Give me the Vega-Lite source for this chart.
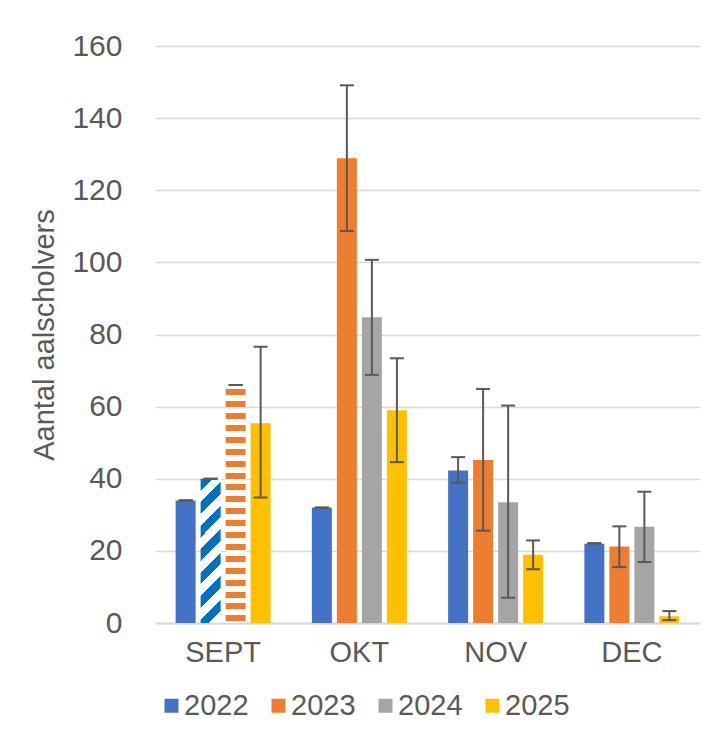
{
  "$schema": "https://vega.github.io/schema/vega-lite/v6.json",
  "width": 545,
  "height": 577,
  "autosize": {"type": "none"},
  "padding": {"left": 155, "top": 46, "right": 13, "bottom": 126},
  "background": "#ffffff",
  "config": {
    "view": {"stroke": null},
    "font": "Liberation Sans",
    "axis": {"labelColor": "#595959", "titleColor": "#595959", "ticks": false}
  },
  "data": {
    "values": [
      {"month": "SEPT", "year": "2022", "value": 34, "lo": 34, "hi": 34},
      {"month": "SEPT", "year": "2023", "value": 40, "lo": 40, "hi": 40},
      {"month": "SEPT", "year": "2024", "value": 66, "lo": 66, "hi": 66},
      {"month": "SEPT", "year": "2025", "value": 55.4, "lo": 34.8, "hi": 76.6},
      {"month": "OKT", "year": "2022", "value": 32, "lo": 32, "hi": 32},
      {"month": "OKT", "year": "2023", "value": 128.9, "lo": 108.7, "hi": 149.1},
      {"month": "OKT", "year": "2024", "value": 84.8, "lo": 68.8, "hi": 100.7},
      {"month": "OKT", "year": "2025", "value": 59, "lo": 44.6, "hi": 73.4},
      {"month": "NOV", "year": "2022", "value": 42.3, "lo": 38.9, "hi": 46},
      {"month": "NOV", "year": "2023", "value": 45.2, "lo": 25.6, "hi": 64.9},
      {"month": "NOV", "year": "2024", "value": 33.5, "lo": 7, "hi": 60.3},
      {"month": "NOV", "year": "2025", "value": 18.9, "lo": 14.9, "hi": 22.9},
      {"month": "DEC", "year": "2022", "value": 22, "lo": 22.1, "hi": 22.1},
      {"month": "DEC", "year": "2023", "value": 21.2, "lo": 15.5, "hi": 26.8},
      {"month": "DEC", "year": "2024", "value": 26.7, "lo": 16.9, "hi": 36.4},
      {"month": "DEC", "year": "2025", "value": 1.9, "lo": 0.8, "hi": 3.3}
    ]
  },
  "encoding": {
    "x": {
      "field": "month",
      "type": "nominal",
      "sort": ["SEPT", "OKT", "NOV", "DEC"],
      "scale": {"paddingInner": 0.266, "paddingOuter": 0.133},
      "axis": {
        "title": null,
        "labelAngle": 0,
        "labelFontSize": 29,
        "labelPadding": 15,
        "domainColor": "#d9d9d9",
        "domainWidth": 2,
        "grid": false
      }
    },
    "xOffset": {
      "field": "year",
      "type": "nominal",
      "scale": {"paddingInner": 0.2, "paddingOuter": 0.1}
    }
  },
  "layer": [
    {
      "transform": [
        {"filter": "!(datum.month === 'SEPT' && (datum.year === '2023' || datum.year === '2024'))"}
      ],
      "mark": {"type": "bar"},
      "encoding": {
        "y": {
          "field": "value",
          "type": "quantitative",
          "scale": {"domain": [0, 160]},
          "axis": {
            "title": "Aantal aalscholvers",
            "titleFontSize": 29,
            "titleFontWeight": "normal",
            "titlePadding": 12,
            "labelFontSize": 30,
            "labelPadding": 33,
            "values": [0, 20, 40, 60, 80, 100, 120, 140, 160],
            "domain": false,
            "gridColor": "#d9d9d9",
            "gridWidth": 1.5
          }
        },
        "color": {
          "field": "year",
          "type": "nominal",
          "scale": {
            "domain": ["2022", "2023", "2024", "2025"],
            "range": ["#4472C4", "#ED7D31", "#A5A5A5", "#FFC000"]
          },
          "legend": {
            "title": null,
            "orient": "none",
            "direction": "horizontal",
            "legendX": 2,
            "legendY": 645,
            "symbolType": "square",
            "symbolSize": 196,
            "symbolStrokeWidth": 0,
            "labelFontSize": 29,
            "labelColor": "#595959",
            "labelOffset": -2,
            "columnPadding": 15,
            "padding": 0
          }
        }
      }
    },
    {
      "transform": [{"filter": "datum.month === 'SEPT' && datum.year === '2023'"}],
      "mark": {
        "type": "bar",
        "fill": {
          "gradient": "linear",
          "x1": 0, "y1": 0, "x2": 0.155, "y2": 1.117,
          "stops": [
            {"offset": 0, "color": "#0070C0"}, {"offset": 0.071, "color": "#0070C0"},
            {"offset": 0.071, "color": "#ffffff"}, {"offset": 0.143, "color": "#ffffff"},
            {"offset": 0.143, "color": "#0070C0"}, {"offset": 0.214, "color": "#0070C0"},
            {"offset": 0.214, "color": "#ffffff"}, {"offset": 0.286, "color": "#ffffff"},
            {"offset": 0.286, "color": "#0070C0"}, {"offset": 0.357, "color": "#0070C0"},
            {"offset": 0.357, "color": "#ffffff"}, {"offset": 0.429, "color": "#ffffff"},
            {"offset": 0.429, "color": "#0070C0"}, {"offset": 0.5, "color": "#0070C0"},
            {"offset": 0.5, "color": "#ffffff"}, {"offset": 0.571, "color": "#ffffff"},
            {"offset": 0.571, "color": "#0070C0"}, {"offset": 0.643, "color": "#0070C0"},
            {"offset": 0.643, "color": "#ffffff"}, {"offset": 0.714, "color": "#ffffff"},
            {"offset": 0.714, "color": "#0070C0"}, {"offset": 0.786, "color": "#0070C0"},
            {"offset": 0.786, "color": "#ffffff"}, {"offset": 0.857, "color": "#ffffff"},
            {"offset": 0.857, "color": "#0070C0"}, {"offset": 0.929, "color": "#0070C0"},
            {"offset": 0.929, "color": "#ffffff"}, {"offset": 1, "color": "#ffffff"}
          ]
        }
      },
      "encoding": {
        "y": {"field": "value", "type": "quantitative"}
      }
    },
    {
      "transform": [{"filter": "datum.month === 'SEPT' && datum.year === '2024'"}],
      "mark": {
        "type": "bar",
        "fill": {
          "gradient": "linear",
          "x1": 0, "y1": 0, "x2": 0, "y2": 1,
          "stops": [
            {"offset": 0.018, "color": "#ffffff"}, {"offset": 0.018, "color": "#ED7D31"}, {"offset": 0.043, "color": "#ED7D31"}, {"offset": 0.043, "color": "#ffffff"},
            {"offset": 0.068, "color": "#ffffff"}, {"offset": 0.068, "color": "#ED7D31"}, {"offset": 0.093, "color": "#ED7D31"}, {"offset": 0.093, "color": "#ffffff"},
            {"offset": 0.118, "color": "#ffffff"}, {"offset": 0.118, "color": "#ED7D31"}, {"offset": 0.143, "color": "#ED7D31"}, {"offset": 0.143, "color": "#ffffff"},
            {"offset": 0.168, "color": "#ffffff"}, {"offset": 0.168, "color": "#ED7D31"}, {"offset": 0.193, "color": "#ED7D31"}, {"offset": 0.193, "color": "#ffffff"},
            {"offset": 0.218, "color": "#ffffff"}, {"offset": 0.218, "color": "#ED7D31"}, {"offset": 0.243, "color": "#ED7D31"}, {"offset": 0.243, "color": "#ffffff"},
            {"offset": 0.268, "color": "#ffffff"}, {"offset": 0.268, "color": "#ED7D31"}, {"offset": 0.293, "color": "#ED7D31"}, {"offset": 0.293, "color": "#ffffff"},
            {"offset": 0.318, "color": "#ffffff"}, {"offset": 0.318, "color": "#ED7D31"}, {"offset": 0.343, "color": "#ED7D31"}, {"offset": 0.343, "color": "#ffffff"},
            {"offset": 0.368, "color": "#ffffff"}, {"offset": 0.368, "color": "#ED7D31"}, {"offset": 0.393, "color": "#ED7D31"}, {"offset": 0.393, "color": "#ffffff"},
            {"offset": 0.418, "color": "#ffffff"}, {"offset": 0.418, "color": "#ED7D31"}, {"offset": 0.443, "color": "#ED7D31"}, {"offset": 0.443, "color": "#ffffff"},
            {"offset": 0.468, "color": "#ffffff"}, {"offset": 0.468, "color": "#ED7D31"}, {"offset": 0.493, "color": "#ED7D31"}, {"offset": 0.493, "color": "#ffffff"},
            {"offset": 0.518, "color": "#ffffff"}, {"offset": 0.518, "color": "#ED7D31"}, {"offset": 0.543, "color": "#ED7D31"}, {"offset": 0.543, "color": "#ffffff"},
            {"offset": 0.568, "color": "#ffffff"}, {"offset": 0.568, "color": "#ED7D31"}, {"offset": 0.593, "color": "#ED7D31"}, {"offset": 0.593, "color": "#ffffff"},
            {"offset": 0.618, "color": "#ffffff"}, {"offset": 0.618, "color": "#ED7D31"}, {"offset": 0.643, "color": "#ED7D31"}, {"offset": 0.643, "color": "#ffffff"},
            {"offset": 0.668, "color": "#ffffff"}, {"offset": 0.668, "color": "#ED7D31"}, {"offset": 0.693, "color": "#ED7D31"}, {"offset": 0.693, "color": "#ffffff"},
            {"offset": 0.718, "color": "#ffffff"}, {"offset": 0.718, "color": "#ED7D31"}, {"offset": 0.743, "color": "#ED7D31"}, {"offset": 0.743, "color": "#ffffff"},
            {"offset": 0.768, "color": "#ffffff"}, {"offset": 0.768, "color": "#ED7D31"}, {"offset": 0.793, "color": "#ED7D31"}, {"offset": 0.793, "color": "#ffffff"},
            {"offset": 0.818, "color": "#ffffff"}, {"offset": 0.818, "color": "#ED7D31"}, {"offset": 0.843, "color": "#ED7D31"}, {"offset": 0.843, "color": "#ffffff"},
            {"offset": 0.868, "color": "#ffffff"}, {"offset": 0.868, "color": "#ED7D31"}, {"offset": 0.893, "color": "#ED7D31"}, {"offset": 0.893, "color": "#ffffff"},
            {"offset": 0.918, "color": "#ffffff"}, {"offset": 0.918, "color": "#ED7D31"}, {"offset": 0.943, "color": "#ED7D31"}, {"offset": 0.943, "color": "#ffffff"},
            {"offset": 0.968, "color": "#ffffff"}, {"offset": 0.968, "color": "#ED7D31"}, {"offset": 0.993, "color": "#ED7D31"}, {"offset": 0.993, "color": "#ffffff"}
          ]
        }
      },
      "encoding": {
        "y": {"field": "value", "type": "quantitative"}
      }
    },
    {
      "mark": {"type": "rule", "color": "#595959", "strokeWidth": 2},
      "encoding": {
        "y": {"field": "lo", "type": "quantitative"},
        "y2": {"field": "hi"}
      }
    },
    {
      "mark": {"type": "tick", "color": "#595959", "thickness": 2, "size": 14, "opacity": 1},
      "encoding": {
        "y": {"field": "lo", "type": "quantitative"}
      }
    },
    {
      "mark": {"type": "tick", "color": "#595959", "thickness": 2, "size": 14, "opacity": 1},
      "encoding": {
        "y": {"field": "hi", "type": "quantitative"}
      }
    }
  ]
}
